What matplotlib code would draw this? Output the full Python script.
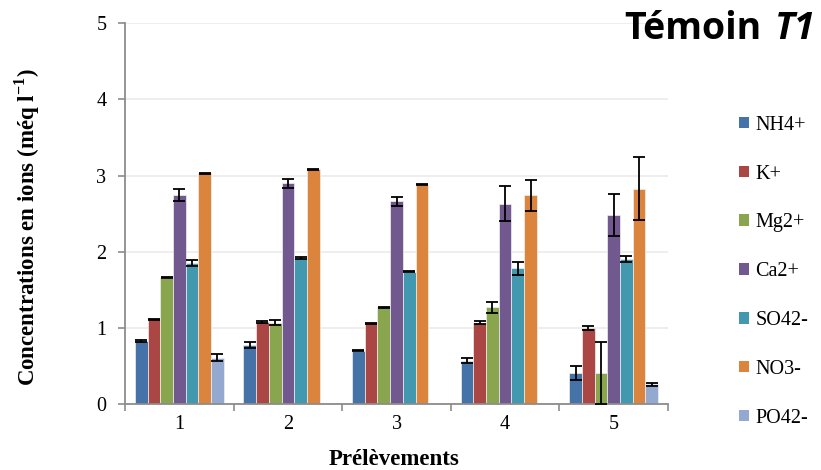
import matplotlib
matplotlib.use("Agg")
import matplotlib.pyplot as plt
import numpy as np
from matplotlib.patches import Patch

categories = ["1", "2", "3", "4", "5"]
series = ["NH4+", "K+", "Mg2+", "Ca2+", "SO42-", "NO3-", "PO42-"]
colors = ["#4572A7", "#AA4643", "#89A54E", "#71588F", "#4198AF", "#DB843D", "#93A9CF"]

nh4 = [0.83, 0.77, 0.70, 0.57, 0.41]
k = [1.11, 1.08, 1.06, 1.07, 1.00]
mg = [1.66, 1.07, 1.27, 1.27, 0.41]
ca = [2.75, 2.90, 2.66, 2.63, 2.48]
so4 = [1.85, 1.92, 1.74, 1.78, 1.90]
no3 = [3.03, 3.08, 2.88, 2.74, 2.83]
po4 = [0.61, 0.0, 0.0, 0.0, 0.26]

nh4_err = [0.01, 0.04, 0.01, 0.03, 0.09]
k_err = [0.01, 0.01, 0.01, 0.02, 0.03]
mg_err = [0.01, 0.03, 0.01, 0.07, 0.41]
ca_err = [0.08, 0.06, 0.06, 0.23, 0.28]
so4_err = [0.04, 0.01, 0.01, 0.09, 0.04]
no3_err = [0.01, 0.01, 0.01, 0.20, 0.41]
po4_err = [0.05, 0.0, 0.0, 0.0, 0.02]

values = [nh4, k, mg, ca, so4, no3, po4]
errors = [nh4_err, k_err, mg_err, ca_err, so4_err, no3_err, po4_err]

serif = ["Liberation Serif", "DejaVu Serif"]
plt.rcParams["font.family"] = serif

W, H = 821, 470
fig = plt.figure(figsize=(W / 100, H / 100), dpi=100)
ax = fig.add_axes([125 / W, 1 - 404 / H, (668 - 125) / W, (404 - 23.3) / H])

x = np.arange(1, len(categories) + 1)
n = len(series)
bw = 0.117
handles = []
for i, (vals, errs, c, name) in enumerate(zip(values, errors, colors, series)):
    pos = x + (i - (n - 1) / 2) * bw
    ax.bar(pos, vals, width=bw, color=c, edgecolor="#f0f0f0", linewidth=0.5, zorder=2)
    mask = [e > 0 for e in errs]
    ax.errorbar(pos[mask], np.array(vals)[mask], yerr=np.array(errs)[mask], fmt="none",
                ecolor="black", elinewidth=1.3, capsize=4.3, capthick=1.3, zorder=3)
    handles.append(Patch(facecolor=c, edgecolor="none", label=name))

ax.set_xlim(0.5, 5.5)
ax.set_ylim(0, 5)
ax.set_yticks([0, 1, 2, 3, 4, 5])
ax.yaxis.grid(True, color="#ebebeb", linewidth=1.2, zorder=0)
ax.set_axisbelow(True)

ax.set_xticks(np.arange(0.5, 5.6, 1.0))
ax.set_xticklabels([])
ax.set_xticks(x, minor=True)
ax.set_xticklabels(categories, minor=True)
ax.tick_params(axis="x", which="major", length=5, color="#8c8c8c", width=1.2, direction="out")
ax.tick_params(axis="x", which="minor", length=0, pad=8, labelsize=14.5)
ax.tick_params(axis="y", length=5, color="#8c8c8c", width=1.2, direction="out", labelsize=14.5, pad=8.5)

for s in ["top", "right"]:
    ax.spines[s].set_visible(False)
for s in ["left", "bottom"]:
    ax.spines[s].set_color("#8c8c8c")
    ax.spines[s].set_linewidth(1.3)

ax.set_ylabel("Concentrations en ions (méq l$^{\\mathregular{-1}}$)", fontsize=16.5, fontweight="bold")
ax.yaxis.set_label_coords(-0.152, 0.465)
ax.set_xlabel("Prélèvements", fontsize=16.5, fontweight="bold")
ax.xaxis.set_label_coords(0.495, -0.118)

leg = fig.legend(handles=handles, loc="upper left", bbox_to_anchor=(731 / W, 1 - 107.7 / H),
                 frameon=False, fontsize=14.5, handlelength=0.5, handleheight=0.5,
                 handletextpad=0.3, labelspacing=1.48, borderaxespad=0)

# title: "Témoin " upright + "T1" italic, right edge at ~815 px
tfam = ["Open Sans", "DejaVu Sans"]
base_y = 1 - 39 / H
t1 = fig.text(815 / W, base_y, "T1", fontsize=27, fontweight="bold", style="italic",
              family=tfam, ha="right", va="baseline")
fig.canvas.draw()
r = fig.canvas.get_renderer()
bb = t1.get_window_extent(r)
fig.text((bb.x0 - 13) / W, base_y, "Témoin", fontsize=27, fontweight="bold",
         family=tfam, ha="right", va="baseline")

fig.savefig("out.png", dpi=100)
